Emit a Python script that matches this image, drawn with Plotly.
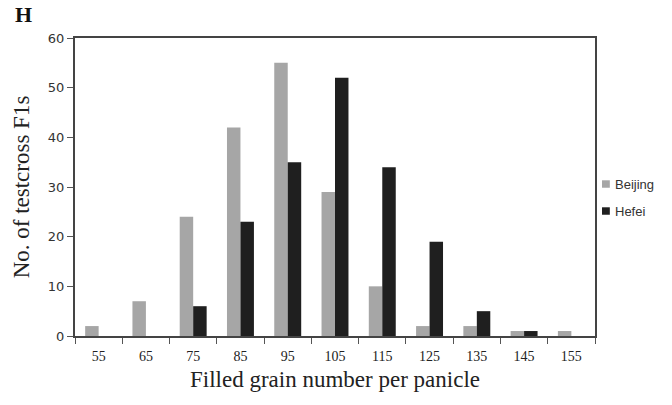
import plotly.graph_objects as go

categories = ["55", "65", "75", "85", "95", "105", "115", "125", "135", "145", "155"]
beijing = [2, 7, 24, 42, 55, 29, 10, 2, 2, 1, 1]
hefei = [0, 0, 6, 23, 35, 52, 34, 19, 5, 1, 0]
y_ticks = [0, 10, 20, 30, 40, 50, 60]
series_names = ["Beijing", "Hefei"]
series_colors = ["#a6a6a6", "#1f1f1f"]

fig = go.Figure()
for name, vals, col in zip(series_names, [beijing, hefei], series_colors):
    fig.add_trace(go.Bar(x=categories, y=vals, name=name, marker_color=col,
                         marker_line_width=0, showlegend=False))

serif = "Liberation Serif, Times New Roman"
fig.update_layout(
    width=672, height=405,
    margin=dict(l=75, r=77, t=38, b=69, autoexpand=False),
    plot_bgcolor="white", paper_bgcolor="white",
    barmode="group", bargap=0.43, bargroupgap=0,
    xaxis=dict(
        type="category", tickson="boundaries", ticks="outside", ticklen=6,
        tickcolor="#555", showline=True, linecolor="#444", linewidth=2, mirror=True,
        tickfont=dict(family=serif, size=14, color="#222"),
        ticklabelstandoff=6,
        title=dict(text="Filled grain number per panicle",
                   font=dict(family=serif, size=23, color="#222"),
                   standoff=8),
        showgrid=False,
    ),
    yaxis=dict(
        range=[0, 60], tickvals=y_ticks, ticks="outside", ticklen=6, tickcolor="#555",
        showline=True, linecolor="#444", linewidth=2, mirror=True, showgrid=False,
        zeroline=False,
        tickfont=dict(family="DejaVu Sans, Verdana", size=13, color="#333"),
        title=dict(text="No. of testcross F1s",
                   font=dict(family=serif, size=23, color="#222"),
                   standoff=12),
    ),
)
fig.add_annotation(text="<b>H</b>", x=-0.119, y=1.03, xref="paper", yref="paper",
                   xanchor="left", yanchor="bottom", showarrow=False,
                   font=dict(family=serif, size=22, color="#111"))

# legend (drawn in the right margin)
for i, (name, col) in enumerate(zip(series_names, series_colors)):
    yc = 0.510 - i * 0.0906
    fig.add_shape(type="rect", xref="paper", yref="paper",
                  x0=1.0135, x1=1.0285, y0=yc - 0.0125, y1=yc + 0.0125,
                  fillcolor=col, line_width=0)
    fig.add_annotation(text=name, x=1.0345, y=yc, xref="paper", yref="paper",
                       xanchor="left", yanchor="middle", showarrow=False,
                       font=dict(family="Liberation Sans, Arial", size=13, color="#333"))

fig.write_html("out.html")
